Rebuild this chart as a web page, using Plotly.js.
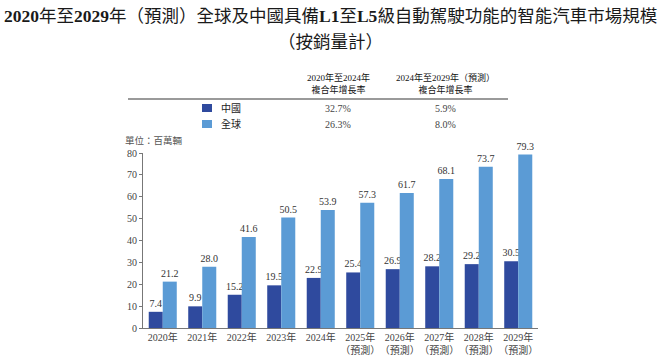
<!DOCTYPE html>
<html>
<head>
<meta charset="utf-8">
<script src="https://cdn.plot.ly/plotly-3.0.1.min.js"></script>
<style>html,body{margin:0;padding:0;background:#fff;}#chart{width:660px;height:356px;}</style>
</head>
<body>
<div id="chart"></div>
<script>
const years = ['2020年','2021年','2022年','2023年','2024年','2025年<br>（預測）','2026年<br>（預測）','2027年<br>（預測）','2028年<br>（預測）','2029年<br>（預測）'];
const china = [7.4, 9.9, 15.2, 19.5, 22.9, 25.4, 26.9, 28.2, 29.2, 30.5];
const globalVals = [21.2, 28.0, 41.6, 50.5, 53.9, 57.3, 61.7, 68.1, 73.7, 79.3];
const seriesNames = ['中國', '全球'];
const cagrHeaders = ['2020年至2024年<br>複合年增長率', '2024年至2029年（預測）<br>複合年增長率'];
const cagrChina = ['32.7%', '5.9%'];
const cagrGlobal = ['26.3%', '8.0%'];
const yTicks = [0, 10, 20, 30, 40, 50, 60, 70, 80];

const cChina = '#2f4a9e';
const cGlobal = '#5b9bd5';
const serif = 'Liberation Serif, Times New Roman, Noto Sans CJK TC, serif';
const cjk = 'Liberation Serif, Noto Sans CJK TC, sans-serif';

const W = 660, H = 356;
const m = {l: 143, r: 122, t: 153, b: 28};
const ph = H - m.t - m.b, pw = W - m.l - m.r;
const py = p => (H - m.b - p) / ph;
const px = p => (p - m.l) / pw;

const traces = [
  {type: 'bar', x: years, y: china, name: seriesNames[0], marker: {color: cChina},
   texttemplate: '%{y:.1f}', textposition: 'outside', cliponaxis: false, constraintext: 'none',
   textfont: {family: serif, size: 10, color: '#333'}, hoverinfo: 'skip'},
  {type: 'bar', x: years, y: globalVals, name: seriesNames[1], marker: {color: cGlobal},
   texttemplate: '%{y:.1f}', textposition: 'outside', cliponaxis: false, constraintext: 'none',
   textfont: {family: serif, size: 10, color: '#333'}, hoverinfo: 'skip'}
];

const ann = [];
ann.push({xref: 'paper', yref: 'paper', x: px(330), y: py(16), xanchor: 'center', yanchor: 'middle', showarrow: false,
  text: '<b>2020</b>年至<b>2029</b>年（預測）全球及中國具備<b>L1</b>至<b>L5</b>級自動駕駛功能的智能汽車市場規模',
  font: {family: cjk, size: 17.5, color: '#1a1a1a'}});
ann.push({xref: 'paper', yref: 'paper', x: px(330), y: py(42), xanchor: 'center', yanchor: 'middle', showarrow: false,
  text: '（按銷量計）', font: {family: cjk, size: 17.5, color: '#1a1a1a'}});
const colX = [338, 445];
cagrHeaders.forEach((t, i) => ann.push({xref: 'paper', yref: 'paper', x: px(colX[i]), y: py(84), xanchor: 'center', yanchor: 'middle', showarrow: false,
  text: t, font: {family: cjk, size: 9, color: '#111'}}));
cagrChina.forEach((t, i) => ann.push({xref: 'paper', yref: 'paper', x: px(colX[i]), y: py(108), xanchor: 'center', yanchor: 'middle', showarrow: false,
  text: t, font: {family: serif, size: 10, color: '#444'}}));
cagrGlobal.forEach((t, i) => ann.push({xref: 'paper', yref: 'paper', x: px(colX[i]), y: py(124), xanchor: 'center', yanchor: 'middle', showarrow: false,
  text: t, font: {family: serif, size: 10, color: '#444'}}));
seriesNames.forEach((t, i) => ann.push({xref: 'paper', yref: 'paper', x: px(219), y: py(108 + 16 * i), xanchor: 'left', yanchor: 'middle', showarrow: false,
  text: t, font: {family: cjk, size: 10, color: '#222'}}));
ann.push({xref: 'paper', yref: 'paper', x: px(123), y: py(140), xanchor: 'left', yanchor: 'middle', showarrow: false,
  text: '單位：百萬輛', font: {family: cjk, size: 9.5, color: '#555'}});

const shapes = [
  {type: 'line', xref: 'paper', yref: 'paper', x0: px(128), x1: px(508), y0: py(99), y1: py(99), line: {color: '#9a9a9a', width: 2}},
  {type: 'rect', xref: 'paper', yref: 'paper', x0: px(202), x1: px(212), y0: py(104), y1: py(112), fillcolor: cChina, line: {width: 0}},
  {type: 'rect', xref: 'paper', yref: 'paper', x0: px(202), x1: px(212), y0: py(120), y1: py(128), fillcolor: cGlobal, line: {width: 0}}
];

const layout = {
  width: W, height: H, margin: m, paper_bgcolor: '#fff', plot_bgcolor: '#fff',
  showlegend: false, barmode: 'group', bargap: 0.29, bargroupgap: 0,
  xaxis: {type: 'category', range: [-0.5, 9.5], tickangle: 0, automargin: false, showline: true, linecolor: '#777', linewidth: 1, ticks: '', showgrid: false,
    tickfont: {family: serif, size: 10, color: '#444'}, fixedrange: true},
  yaxis: {range: [0, 80], tickvals: yTicks, showline: true, linecolor: '#777', linewidth: 1, ticks: 'outside', ticklen: 3, tickcolor: '#777',
    showgrid: false, zeroline: false, tickfont: {family: serif, size: 10, color: '#444'}, fixedrange: true},
  annotations: ann, shapes: shapes
};

Plotly.newPlot('chart', traces, layout, {displayModeBar: false, staticPlot: true});
</script>
</body>
</html>
